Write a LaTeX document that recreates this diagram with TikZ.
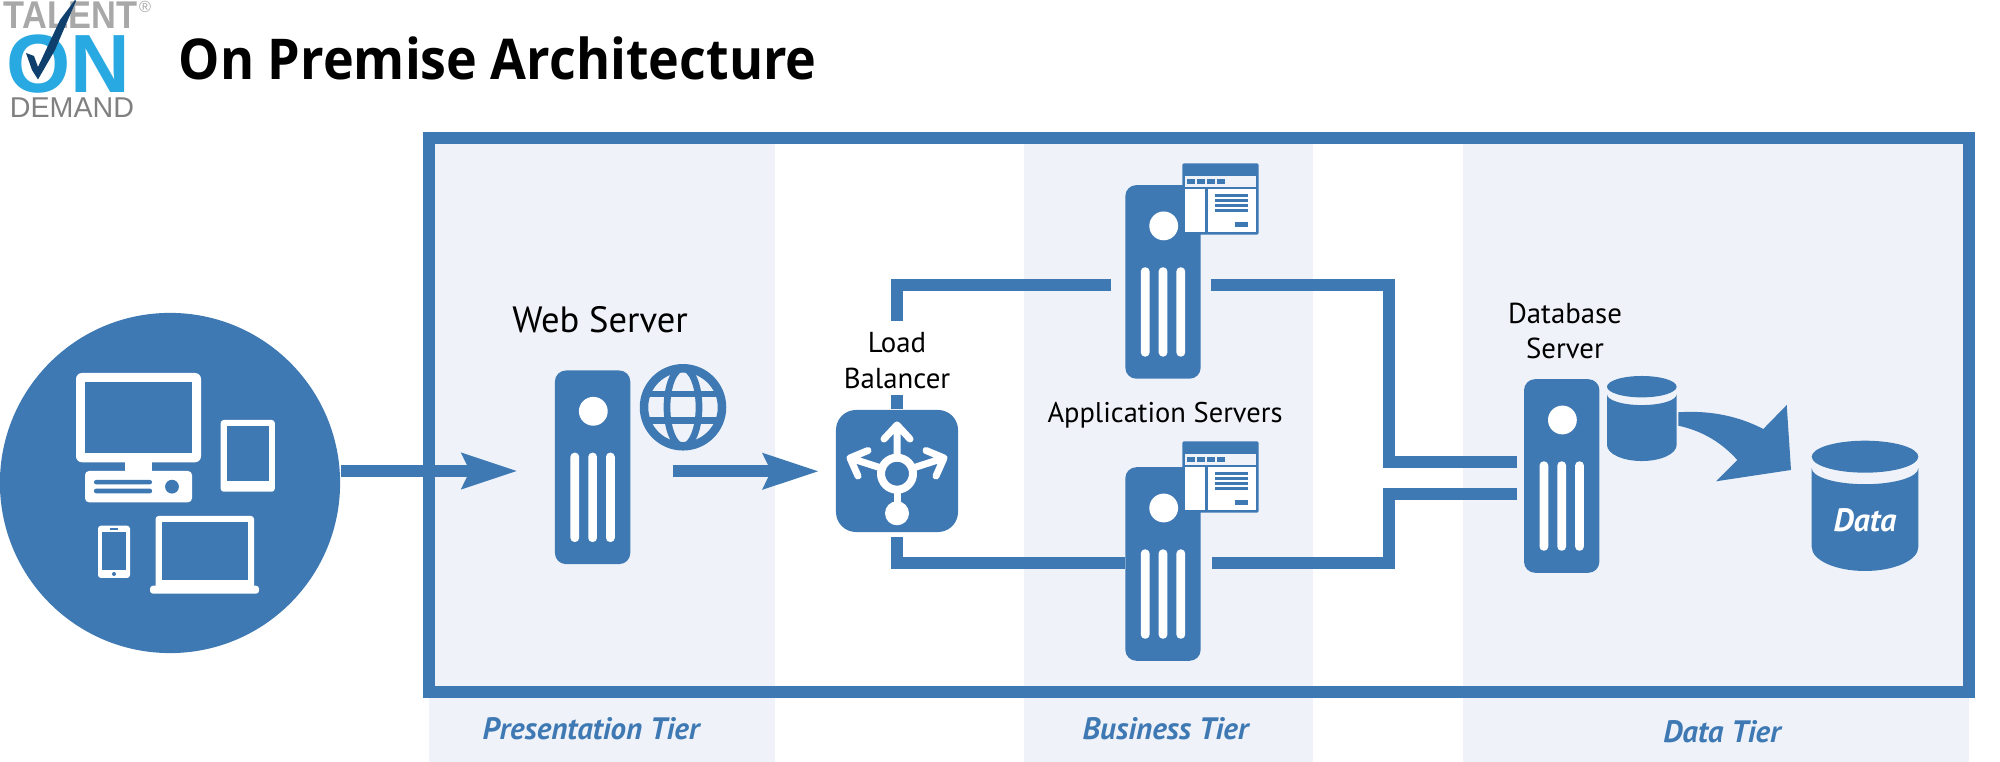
\documentclass[tikz,border=0pt]{standalone}
\usepackage{fontspec}
\usepackage{xcolor}
\usepackage{tikz}
\usetikzlibrary{arrows.meta}
\setmainfont{PT Sans}
\newfontfamily\logofont{Liberation Sans}
\newfontfamily\talentfont[FakeStretch=0.89]{Liberation Sans}
\newfontfamily\titlefont[FakeStretch=0.925]{Open Sans}
\definecolor{tierblue}{HTML}{3F79B4}
\definecolor{tierpale}{HTML}{EFF3F9}
\definecolor{logogray}{HTML}{A8A8A8}
\definecolor{logosky}{HTML}{29A9E1}
\definecolor{logonavy}{HTML}{0F3F6C}

% round button and three slots on the front of a server
\newcommand{\serverface}[1]{%
  \begin{scope}[shift={(#1.center)}]
    \fill[white] (0.7,-56) circle (14.4);
    \foreach \sx in {-17.8,0,17.8}
      \fill[white, rounded corners=0.04cm] (\sx-4.35,-14.6) rectangle (\sx+4.35,74.7);
  \end{scope}}
% browser window that leans on an application server
\newcommand{\browserface}[1]{%
  \begin{scope}[shift={(#1)}]
    \fill[tierblue, rounded corners=0.02cm] (0,0) rectangle (76.4,71.4);
    \fill[tierpale] (2.7,12.7) rectangle (73.7,23.4);
    \fill[white] (2.7,25.7) rectangle (23,68.4);
    \fill[white] (25.4,25.7) rectangle (73.7,68.4);
    \foreach \bx in {5,15,25,35}
      \fill[tierblue] (\bx,15.4) rectangle (\bx+8,20.7);
    \foreach \ly in {30.7,35.7,40.7,45.7}
      \fill[tierblue] (32.7,\ly) rectangle (65.7,\ly+2.7);
    \fill[tierblue] (53,58.4) rectangle (65.7,63.7);
  \end{scope}}
% drum with a separate lid
\newcommand{\drumshape}[5]{%
  \fill[tierblue] (#1,#2) ellipse [x radius=#3, y radius=#4];
  \fill[tierblue] (#1-#3,#2+#4*0.72) arc [start angle=180, end angle=0, x radius=#3, y radius=#4]
    -- (#1+#3,#5) arc [start angle=0, end angle=180, x radius=#3, y radius=#4*1.5] -- cycle;}

\begin{document}
\begin{tikzpicture}[x=0.01cm, y=-0.01cm, >=latex,
  tierband/.style={fill=tierpale},
  tiername/.style={text=tierblue, font=\fontsize{8.8}{11}\selectfont\bfseries\itshape, inner sep=0pt},
  boxlabel/.style={align=center, inner sep=0pt},
  serverbox/.style={fill=tierblue, rounded corners=0.11cm, minimum width=0.753cm, minimum height=1.935cm, inner sep=0pt},
  wire/.style={draw=tierblue, line width=0.12cm},
  flow/.style={draw=tierblue, line width=0.12cm, -{Stealth[length=0.55cm, width=0.34cm, inset=0.07cm]}},
  screenbox/.style={fill=white, rounded corners=0.03cm}]
  \useasboundingbox (0,0) rectangle (2000,762);

  % tiers
  \fill[tierband] (429,138) rectangle (775,762);
  \fill[tierband] (1024,138) rectangle (1313,762);
  \fill[tierband] (1463,138) rectangle (1969,762);
  \draw[draw=tierblue, line width=0.122cm] (429,137.7) rectangle (1969,692);

  \node[tiername] (presname) at (591,729) {Presentation Tier};
  \node[tiername] (busname) at (1165.5,729) {Business Tier};
  \node[tiername] (dataname) at (1722,732) {Data Tier};

  % logo and title
  \begin{scope}
    \clip (0,0) rectangle (180,130);
    \node[text=logogray, font=\talentfont\fontsize{11}{13}\selectfont\bfseries, inner sep=0pt] (talent) at (70.5,15) {TALENT};
    \node[text=logosky, font=\logofont\fontsize{23.5}{26}\selectfont\bfseries, inner sep=0pt] (on) at (68,64) {ON};
    \node[text=gray, font=\logofont\fontsize{8.15}{10}\selectfont, inner sep=0pt] (demand) at (72,108) {DEMAND};
    \node[text=logogray, font=\logofont\fontsize{4.6}{5}\selectfont, inner sep=0pt] (regmark) at (145,7) {\textregistered};
    \fill[logonavy] (26,53) -- (34,56) -- (38,67) -- (60,20) -- (75,0) -- (76,1) -- (55,50) -- (38,79.5) -- (32,70) -- cycle;
  \end{scope}
  \node[font=\titlefont\fontsize{16}{20}\selectfont\bfseries, inner sep=0pt, anchor=west] (title) at (178,58) {On Premise Architecture};

  % clients
  \node[circle, fill=tierblue, minimum size=3.4cm, inner sep=0pt] (clients) at (170,483) {};
  \fill[white, rounded corners=0.06cm] (76,373) rectangle (201,462.3);
  \fill[tierblue] (85,382.3) rectangle (192,453.3);
  \fill[white] (125,461) rectangle (152,472);
  \fill[white, rounded corners=0.04cm] (85,471) rectangle (192,502.3);
  \fill[tierblue, rounded corners=0.02cm] (94,480) rectangle (152,484.3);
  \fill[tierblue, rounded corners=0.02cm] (94,488.7) rectangle (152,493.3);
  \fill[tierblue] (172,486.7) circle (6.9);
  \fill[screenbox] (220.7,420) rectangle (274.8,491.7);
  \fill[tierblue] (226.6,426) rectangle (269,481);
  \fill[screenbox] (98,525.7) rectangle (130,578);
  \fill[tierblue] (102,532) rectangle (126,570);
  \fill[tierblue] (110,528) rectangle (118,530);
  \fill[tierblue] (114,574) circle (2);
  \fill[screenbox] (155.6,516) rectangle (254,590);
  \fill[tierblue] (161.5,522.3) rectangle (248,580);
  \fill[white, rounded corners=0.03cm] (150,585.7) rectangle (259,593.7);

  % web server
  \node[serverbox] (web) at (592.6,467.3) {};
  \serverface{web}
  \node[font=\fontsize{10.4}{12}\selectfont, inner sep=0pt] (weblabel) at (600,320) {Web Server};
  \draw[tierblue, line width=0.085cm] (683,407.3) circle (39);
  \draw[tierblue, line width=0.067cm] (683,407.3) ellipse [x radius=16, y radius=39];
  \draw[tierblue, line width=0.067cm] (648,394) -- (718,394) (648,420.5) -- (718,420.5);
  \coordinate (webtip) at (518,471);
  \coordinate (webout) at (672.7,471.3);

  % load balancer
  \node[fill=tierblue, rounded corners=0.2cm, minimum size=1.22cm, inner sep=0pt] (lb) at (897,471) {};
  \node[boxlabel, font=\fontsize{8.2}{10.2}\selectfont] (lblabel) at (897,361) {Load\\Balancer};
  \begin{scope}[white, line width=0.07cm, line cap=round, line join=round]
    \draw[line width=0.08cm] (897,473.7) circle (16);
    \draw (897,490) -- (897,513);
    \fill (897,513.3) circle (12);
    \draw (897,456) -- (897,425) (884,439) -- (897,425) -- (910,439);
    \draw (881,468) -- (850,458) (868,450.5) -- (850,458) -- (858,476);
    \draw (913,468) -- (944,458) (926,450.5) -- (944,458) -- (936,476);
  \end{scope}

  % application servers
  \node[serverbox] (appa) at (1163,281.9) {};
  \serverface{appa}
  \browserface{1182.3,163.3}
  \node[serverbox] (appb) at (1163,564) {};
  \serverface{appb}
  \browserface{1182.3,441.3}
  \node[font=\fontsize{8.1}{10}\selectfont, inner sep=0pt] (applabel) at (1165,415) {Application Servers};

  % database server
  \node[serverbox] (db) at (1561.7,476) {};
  \serverface{db}
  \node[boxlabel, font=\fontsize{8.2}{10.2}\selectfont] (dblabel) at (1565,331) {Database\\Server};
  \drumshape{1641.8}{386.7}{34.8}{10.7}{445}
  \fill[tierblue] (1678.3,412.3) .. controls (1712,410) and (1740,417) .. (1763.3,429)
    -- (1786.7,405) -- (1791,470) -- (1716,481.3) -- (1737.3,460)
    .. controls (1722,443) and (1703,431) .. (1678.3,425.7) -- cycle;
  \drumshape{1865}{456.7}{53.3}{16}{547}
  \node[text=white, font=\fontsize{9.2}{10}\selectfont\bfseries\itshape, inner sep=0pt] (datalabel) at (1865,520) {Data};

  % connectors
  \coordinate (lbtop) at (897,320.7);
  \coordinate (lbstub) at (897,395);
  \coordinate (lbbot) at (897,537.3);
  \coordinate (appain) at (1110.7,285.5);
  \coordinate (appaout) at (1210.7,285.5);
  \coordinate (appbin) at (1110.7,563);
  \coordinate (appbout) at (1212,563);
  \coordinate (joina) at (1389,380);
  \coordinate (joinb) at (1389,494.3);
  \coordinate (dbina) at (1516.7,462);
  \coordinate (dbinb) at (1516.7,494.3);
  \draw[flow] (clients.east |- webtip) -- (webtip);
  \draw[flow, shorten >=0.16cm] (webout) -- (lb.west |- webout);
  \draw[wire] (lb.north) -- (lbstub);
  \draw[wire] (lbtop) |- (appain);
  \draw[wire] (lbbot) |- (appb.west |- appbin);
  \draw[wire] (appaout) -| (joina) |- (dbina);
  \draw[wire] (appbout) -| (joinb) -- (dbinb);
\end{tikzpicture}
\end{document}
